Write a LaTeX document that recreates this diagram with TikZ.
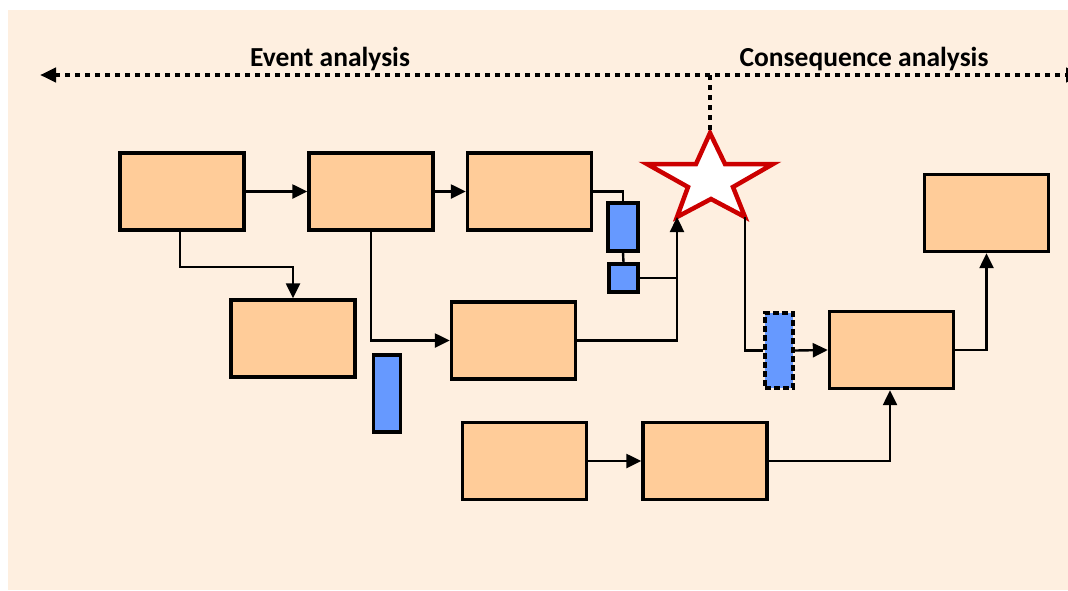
\documentclass[tikz,border=0pt]{standalone}
\usepackage{fontspec}
\setmainfont{Carlito}
\usetikzlibrary{arrows.meta}
\definecolor{bgc}{HTML}{FEEFE0}
\definecolor{boxc}{HTML}{FFCC99}
\definecolor{barc}{HTML}{6699FF}
\definecolor{starc}{HTML}{CC0000}
\tikzset{
  box/.style={draw, line width=3.4pt, fill=boxc, minimum width=124pt, minimum height=77pt, inner sep=0pt},
  bar/.style={draw, line width=3.4pt, fill=barc, inner sep=0pt},
  conn/.style={line width=2.4pt},
  arr/.style={conn, -{Triangle[length=15pt,width=14pt]}},
  dotline/.style={line width=4.5pt, dash pattern=on 4.5pt off 5.5pt},
  label/.style={font=\bfseries\fontsize{27.5}{32}\selectfont, inner sep=0pt}
}
\begin{document}
\begin{tikzpicture}[x=1pt,y=-1pt]
\clip (0,0) rectangle (1068,590);
\fill[white] (0,0) rectangle (1068,590);
\fill[bgc] (8,10) rectangle (1068,590);
% labels
\node[label] (ev) at (330,59) {Event analysis};
\node[label] (co) at (864,59) {Consequence analysis};
% dotted top line
\coordinate (L) at (40,75);
\coordinate (R) at (1082,75);
\coordinate (M) at (710,75);
\draw[dotline, {Triangle[length=16pt,width=14pt]}-{Triangle[length=16pt,width=14pt]}] (L) -- (R);
% boxes
\node[box] (A) at (182,191.5) {};
\node[box] (B) at (371,191.5) {};
\node[box] (C) at (529.5,191.5) {};
\node[box] (D) at (293,338.5) {};
\node[box] (E) at (513.5,340.5) {};
\node[box] (F) at (986.5,213) {};
\node[box] (G) at (891.5,350) {};
\node[box] (H) at (524.5,461) {};
\node[box] (I) at (705,461) {};
% bars
\node[bar, minimum width=30pt, minimum height=48pt] (b1) at (623,227) {};
\node[bar, minimum width=29pt, minimum height=28pt] (b2) at (623.5,278) {};
\node[bar, minimum width=27pt, minimum height=77pt] (b3) at (387,393.5) {};
\node[bar, minimum width=28pt, minimum height=75pt, dash pattern=on 6pt off 3pt] (b4) at (779,350.5) {};
% star
\coordinate (sT) at (710,133);
\coordinate (sL) at (647,164);
\coordinate (sBL) at (677,217);
\coordinate (sBR) at (745,217);
\coordinate (sR) at (773,164);
\draw[starc, line width=4.5pt, fill=white, line join=miter]
  (sT) -- (725,164) -- (sR) -- (733,187) -- (sBR) -- (711,199) -- (sBL) -- (688,187) -- (sL) -- (696,164) -- cycle;
\draw[dotline] (M) -- (sT);
% connectors
\draw[arr] (A.east) -- (B.west);
\draw[arr] (B.east) -- (C.west);
\draw[arr] ([xshift=-2pt]A.south) -- ++(0,35) -| (D.north);
\draw[arr] (B.south) |- (E.west);
\draw[conn] (C.east) -| (b1.north);
\draw[conn] (b1.south) -- (b2.north);
\draw[conn] (b2.east) -- (b2.east -| sBL);
\draw[arr] (E.east) -| (sBL);
\draw[conn] (sBR) |- (b4.west);
\draw[arr] (b4.east) -- (G.west);
\draw[arr] (G.east) -| (F.south);
\draw[arr] (H.east) -- (I.west);
\draw[arr] (I.east) -| ([xshift=-1.5pt]G.south);
\end{tikzpicture}
\end{document}
